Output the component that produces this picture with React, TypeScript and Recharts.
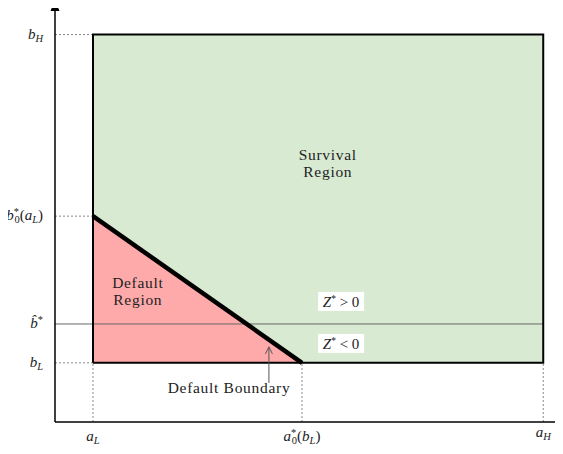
import {
  ComposedChart, XAxis, YAxis, Area, Line, ReferenceLine, ReferenceDot,
} from 'recharts';

// asset values a (x) and debt values b (y), in plot units
const A_L = 1;
const A_0 = 6.5;
const A_H = 12.85;
const A_MAX = 13.37;

const B_L = 1;
const B_HAT = 1.657;
const B_0 = 3.48;
const B_H = 6.55;
const B_MAX = 7.1;

const X_TICKS = [A_L, A_0, A_H];
const Y_TICKS = [B_L, B_HAT, B_0, B_H];

const survivalData = [
  { a: A_L, b: B_H },
  { a: A_H, b: B_H },
];
const defaultData = [
  { a: A_L, b: B_0 },
  { a: A_0, b: B_L },
];
const outlineData = [
  { a: A_L, b: B_L },
  { a: A_L, b: B_H },
  { a: A_H, b: B_H },
  { a: A_H, b: B_L },
  { a: A_L, b: B_L },
];

const SERIF = '"Liberation Serif", "DejaVu Serif", serif';
const TXT = '#222';

// b*_0 style: star above, 0 below, stacked
function StarZero({ size }: { size: number }) {
  return (
    <>
      <tspan fontSize={size} dy={-5}>*</tspan>
      <tspan fontSize={size} dx={-4.5} dy={8}>0</tspan>
    </>
  );
}

function XTick({ x, y, payload }: any) {
  const i = X_TICKS.indexOf(payload.value);
  const base = { fontFamily: SERIF, fontSize: 15, fill: TXT, textAnchor: 'middle' as const };
  if (i === 1) {
    return (
      <text x={x} y={y + 11} {...base}>
        <tspan fontStyle="italic">a</tspan>
        <StarZero size={10.5} />
        <tspan dy={-3}>(</tspan>
        <tspan fontStyle="italic">b</tspan>
        <tspan fontSize={10.5} fontStyle="italic" dy={3}>L</tspan>
        <tspan dy={-3}>)</tspan>
      </text>
    );
  }
  return (
    <text x={x} y={y + (i === 2 ? 7 : 11)} {...base}>
      <tspan fontStyle="italic">a</tspan>
      <tspan fontSize={10.5} fontStyle="italic" dy={3}>{i === 0 ? 'L' : 'H'}</tspan>
    </text>
  );
}

function YTick({ x, y, payload }: any) {
  const i = Y_TICKS.indexOf(payload.value);
  const base = { fontFamily: SERIF, fontSize: 15, fill: TXT, textAnchor: 'end' as const };
  const tx = x - 4;
  if (i === 2) {
    return (
      <text x={tx} y={y + 4} {...base}>
        <tspan fontStyle="italic">b</tspan>
        <StarZero size={10.5} />
        <tspan dy={-3}>(</tspan>
        <tspan fontStyle="italic">a</tspan>
        <tspan fontSize={10.5} fontStyle="italic" dy={3}>L</tspan>
        <tspan dy={-3}>)</tspan>
      </text>
    );
  }
  if (i === 1) {
    return (
      <text x={tx} y={y + 4} {...base}>
        <tspan fontStyle="italic">{'b\u0302'}</tspan>
        <tspan fontSize={10.5} dy={-5}>*</tspan>
      </text>
    );
  }
  return (
    <text x={tx} y={y + 4} {...base}>
      <tspan fontStyle="italic">b</tspan>
      <tspan fontSize={10.5} fontStyle="italic" dy={3}>{i === 0 ? 'L' : 'H'}</tspan>
    </text>
  );
}

const textStyle = { fontFamily: SERIF, fontSize: 15.5, fill: TXT, textAnchor: 'middle' as const, letterSpacing: 0.7 };

function TwoLines(lines: string[]) {
  return (p: any) => (
    <g>
      {lines.map((l, k) => (
        <text key={k} x={p.cx} y={p.cy + k * 17} {...textStyle}>{l}</text>
      ))}
    </g>
  );
}

function ZLabel(sign: string) {
  return (p: any) => (
    <g>
      <rect x={p.cx - 23} y={p.cy - 10} width={46} height={19} fill="#fff" />
      <text x={p.cx} y={p.cy + 5} fontFamily={SERIF} fontSize={15} fill={TXT} textAnchor="middle">
        <tspan fontStyle="italic">Z</tspan>
        <tspan fontSize={9.5} dy={-5}>*</tspan>
        <tspan dy={5}>{` ${sign} 0`}</tspan>
      </text>
    </g>
  );
}

const dotted = { stroke: '#888', strokeDasharray: '2 2', strokeWidth: 1 };

export default function App() {
  return (
    <ComposedChart
      width={563}
      height={454}
      margin={{ top: 2, right: 0, left: 0, bottom: 0 }}
      style={{ marginLeft: -8, marginTop: -8 }}
    >
      <XAxis
        type="number"
        dataKey="a"
        domain={[0, A_MAX]}
        ticks={X_TICKS}
        interval={0}
        tick={<XTick />}
        tickLine={false}
        axisLine={{ stroke: '#000', strokeWidth: 1.5 }}
        height={32}
        allowDataOverflow
      />
      <YAxis
        type="number"
        dataKey="b"
        domain={[0, B_MAX]}
        ticks={Y_TICKS}
        interval={0}
        tick={<YTick />}
        tickLine={false}
        axisLine={{ stroke: '#000', strokeWidth: 1.5 }}
        width={55}
        allowDataOverflow
      />

      <Area
        data={survivalData}
        dataKey="b"
        type="linear"
        baseValue={B_L}
        fill="#d9ead3"
        fillOpacity={1}
        stroke="none"
        isAnimationActive={false}
      />
      <Area
        data={defaultData}
        dataKey="b"
        type="linear"
        baseValue={B_L}
        fill="#ffaaaa"
        fillOpacity={1}
        stroke="none"
        isAnimationActive={false}
      />

      <ReferenceLine segment={[{ x: 0, y: B_H }, { x: A_L, y: B_H }]} {...dotted} />
      <ReferenceLine segment={[{ x: 0, y: B_0 }, { x: A_L, y: B_0 }]} {...dotted} />
      <ReferenceLine segment={[{ x: 0, y: B_L }, { x: A_L, y: B_L }]} {...dotted} />
      <ReferenceLine segment={[{ x: A_L, y: 0 }, { x: A_L, y: B_L }]} {...dotted} />
      <ReferenceLine segment={[{ x: A_0, y: 0 }, { x: A_0, y: B_L }]} {...dotted} />
      <ReferenceLine segment={[{ x: A_H, y: 0 }, { x: A_H, y: B_L }]} {...dotted} />
      <ReferenceLine segment={[{ x: 0, y: B_HAT }, { x: A_H, y: B_HAT }]} stroke="#666" strokeWidth={1} />

      <Line
        data={outlineData}
        dataKey="b"
        type="linear"
        stroke="#000"
        strokeWidth={2}
        dot={false}
        activeDot={false}
        isAnimationActive={false}
      />
      <Line
        data={defaultData}
        dataKey="b"
        type="linear"
        stroke="#000"
        strokeWidth={4.5}
        dot={false}
        activeDot={false}
        isAnimationActive={false}
      />

      <ReferenceLine segment={[{ x: 5.63, y: 0.66 }, { x: 5.63, y: 1.27 }]} stroke="#555" strokeWidth={1} />
      <ReferenceDot
        x={5.63}
        y={1.27}
        shape={(p: any) => (
          <path d={`M${p.cx - 3.5},${p.cy + 7} L${p.cx},${p.cy} L${p.cx + 3.5},${p.cy + 7}`} fill="none" stroke="#555" strokeWidth={1} />
        )}
      />
      <ReferenceDot
        x={0}
        y={B_MAX}
        ifOverflow="visible"
        shape={(p: any) => (
          <path d={`M${p.cx},${p.cy - 2} L${p.cx - 4.5},${p.cy + 9} L${p.cx + 4.5},${p.cy + 9} Z`} fill="#000" />
        )}
      />

      <ReferenceDot x={7.18} y={4.43} ifOverflow="visible" shape={TwoLines(['Survival', 'Region'])} />
      <ReferenceDot x={2.18} y={2.27} ifOverflow="visible" shape={TwoLines(['Default', 'Region'])} />
      <ReferenceDot x={4.58} y={0.49} ifOverflow="visible" shape={TwoLines(['Default Boundary'])} />
      <ReferenceDot x={7.53} y={2.03} ifOverflow="visible" shape={ZLabel('>')} />
      <ReferenceDot x={7.53} y={1.32} ifOverflow="visible" shape={ZLabel('<')} />
    </ComposedChart>
  );
}
